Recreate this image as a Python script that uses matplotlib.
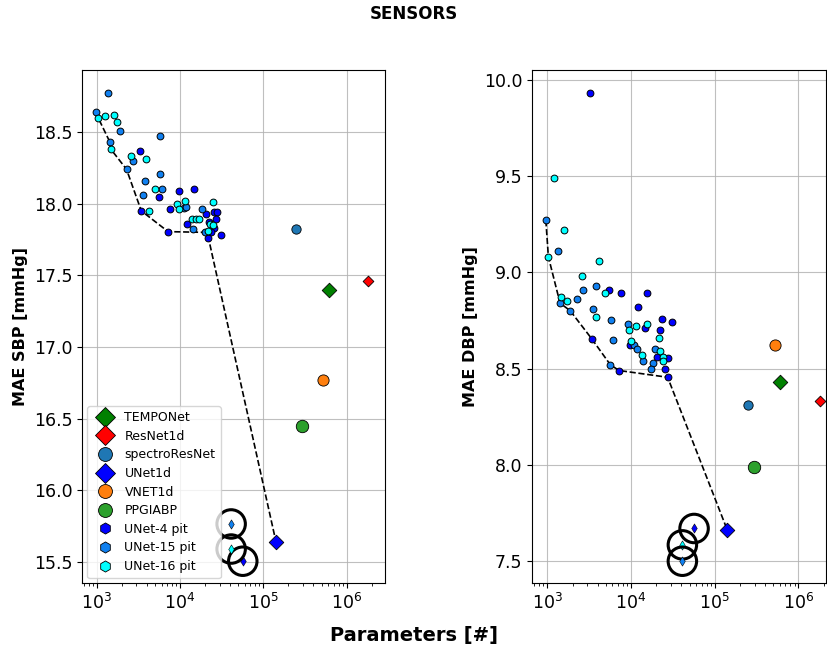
import numpy as np
import matplotlib
matplotlib.use("Agg")
import matplotlib.pyplot as plt
from matplotlib.lines import Line2D

# ---- SBP panel: pit variants (params, MAE) ----
sbp_u4_params = [3270, 9730, 14800, 5520, 3430, 7540, 20790, 25880, 28100, 27350,
                 12010, 22130, 25600, 7200, 23820, 31300, 21970]
sbp_u4_mae = [18.37, 18.09, 18.10, 18.05, 17.95, 17.96, 17.93, 17.94, 17.94, 17.89,
              17.86, 17.87, 17.83, 17.805, 17.80, 17.78, 17.76]
sbp_u15_params = [1360, 970, 1890, 5730, 1440, 2750, 2280, 5730, 3830, 6150,
                  3590, 11160, 11790, 18270, 14150, 20230]
sbp_u15_mae = [18.77, 18.64, 18.51, 18.47, 18.43, 18.30, 18.24, 18.21, 18.16, 18.10,
               18.06, 17.97, 17.98, 17.96, 17.82, 17.80]
sbp_u16_params = [1040, 1250, 1600, 1760, 1480, 2610, 3860, 5000, 11560, 24700,
                  9290, 4200, 9810, 13770, 15490, 16980, 22950, 25200, 21540]
sbp_u16_mae = [18.60, 18.61, 18.62, 18.57, 18.38, 18.33, 18.31, 18.10, 18.02, 18.01,
               18.00, 17.95, 17.96, 17.89, 17.89, 17.89, 17.86, 17.85, 17.81]

# ---- DBP panel: pit variants ----
dbp_u4_params = [3240, 5460, 7530, 15420, 12020, 23650, 31140, 14830, 22030, 3390,
                 9650, 20610, 27900, 25700, 7200, 27400]
dbp_u4_mae = [9.93, 8.91, 8.89, 8.89, 8.82, 8.76, 8.74, 8.71, 8.70, 8.655,
              8.62, 8.56, 8.555, 8.50, 8.49, 8.455]
dbp_u15_params = [960, 1340, 2690, 3790, 1420, 2260, 1880, 3550, 5720, 9140,
                  6150, 10760, 11690, 19500, 14030, 18150, 17180, 5660]
dbp_u15_mae = [9.27, 9.11, 8.91, 8.93, 8.84, 8.86, 8.80, 8.81, 8.75, 8.73,
               8.65, 8.62, 8.60, 8.60, 8.54, 8.53, 8.50, 8.52]
dbp_u16_params = [1210, 1580, 1030, 4150, 2600, 4890, 1470, 1730, 3820, 11480,
                  15530, 9390, 21420, 9910, 22210, 13520, 23920, 24320]
dbp_u16_mae = [9.49, 9.22, 9.08, 9.06, 8.98, 8.89, 8.87, 8.85, 8.77, 8.72,
               8.73, 8.70, 8.66, 8.645, 8.59, 8.57, 8.56, 8.54]

# ---- reference models ----
models = ["TEMPONet", "ResNet1d", "spectroResNet", "UNet1d", "VNET1d", "PPGIABP"]
model_params = [6.1e5, 1.83e6, 2.48e5, 1.42e5, 5.2e5, 2.93e5]
model_sbp = [17.40, 17.46, 17.82, 15.64, 16.77, 16.45]
model_dbp = [8.43, 8.33, 8.31, 7.66, 8.62, 7.99]

# ---- selected (circled) pit models: UNet-4, UNet-16, UNet-15 ----
sel_params = [56700, 41100, 41100]
sel_sbp = [15.505, 15.59, 15.765]
sel_dbp = [7.67, 7.585, 7.50]

C4, C15, C16 = "#0000ff", "#1080f0", "#00ffff"
model_style = {
    "TEMPONet": dict(marker="D", color="green", s=55),
    "ResNet1d": dict(marker="D", color="red", s=30),
    "spectroResNet": dict(marker="o", color="tab:blue", s=45),
    "UNet1d": dict(marker="D", color="blue", s=55),
    "VNET1d": dict(marker="o", color="tab:orange", s=65),
    "PPGIABP": dict(marker="o", color="tab:green", s=80),
}
sel_colors = [C4, C16, C15]


def pareto(xs, ys):
    order = np.argsort(xs)
    fx, fy = [], []
    best = np.inf
    for i in order:
        if ys[i] < best:
            best = ys[i]
            fx.append(xs[i]); fy.append(ys[i])
    return fx, fy


def panel(ax, groups, mvals, svals, ylabel):
    allx, ally = [], []
    for (px, py), c in zip(groups, [C4, C15, C16]):
        ax.scatter(px, py, s=24, color=c, edgecolor="black", linewidth=0.7, zorder=3)
        allx += px; ally += py
    i_u = models.index("UNet1d")
    fx, fy = pareto(np.array(allx + [model_params[i_u]]), np.array(ally + [mvals[i_u]]))
    ax.plot(fx, fy, color="black", ls="--", lw=1.2, zorder=2)
    for name, px, py in zip(models, model_params, mvals):
        st = model_style[name]
        ax.scatter(px, py, marker=st["marker"], s=st["s"], color=st["color"],
                   edgecolor="black", linewidth=0.6, zorder=4)
    for px, py, c in zip(sel_params, svals, sel_colors):
        ax.scatter(px, py, marker="d", s=22, color=c, edgecolor="black",
                   linewidth=0.4, zorder=5)
        ax.scatter(px, py, marker="o", s=420, facecolor="none", edgecolor="black",
                   linewidth=2.2, zorder=5)
    ax.set_xscale("log")
    ax.grid(True, color="#b0b0b0", lw=0.8, alpha=0.8)
    ax.set_axisbelow(True)
    ax.set_ylabel(ylabel, fontsize=11.5, fontweight="bold")
    ax.tick_params(labelsize=12.5)


fig = plt.figure(figsize=(8.27, 6.51), dpi=100)
ax1 = fig.add_axes([82 / 827, 1 - 583 / 651, 303 / 827, 513 / 651])
ax2 = fig.add_axes([532 / 827, 1 - 583 / 651, 294 / 827, 513 / 651])

panel(ax1, [(sbp_u4_params, sbp_u4_mae), (sbp_u15_params, sbp_u15_mae),
            (sbp_u16_params, sbp_u16_mae)], model_sbp, sel_sbp, "MAE SBP [mmHg]")
panel(ax2, [(dbp_u4_params, dbp_u4_mae), (dbp_u15_params, dbp_u15_mae),
            (dbp_u16_params, dbp_u16_mae)], model_dbp, sel_dbp, "MAE DBP [mmHg]")

ax1.set_xlim(10 ** 2.8235, 10 ** 6.461)
ax1.set_ylim(15.353, 18.933)
ax1.set_yticks([15.5, 16.0, 16.5, 17.0, 17.5, 18.0, 18.5])
ax2.set_xlim(10 ** 2.817, 10 ** 6.330)
ax2.set_ylim(7.387, 10.05)
ax2.set_yticks([7.5, 8.0, 8.5, 9.0, 9.5, 10.0])

handles = []
for name in models:
    st = model_style[name]
    handles.append(Line2D([], [], ls="none", marker=st["marker"], markersize=10,
                          markerfacecolor=st["color"], markeredgecolor="black",
                          markeredgewidth=0.6, label=name))
for lab, c in zip(["UNet-4 pit", "UNet-15 pit", "UNet-16 pit"], [C4, C15, C16]):
    handles.append(Line2D([], [], ls="none", marker="h", markersize=8,
                          markerfacecolor=c, markeredgecolor="black",
                          markeredgewidth=0.6, label=lab))
ax1.legend(handles=handles, loc="lower left", fontsize=9, handletextpad=0.6,
           labelspacing=0.45, borderaxespad=0.4)

fig.text(0.5, 1 - 14 / 651, "SENSORS", ha="center", va="center",
         fontsize=12, fontweight="bold")
fig.text(0.5, 1 - 636 / 651, "Parameters [#]", ha="center", va="center",
         fontsize=14, fontweight="bold")

fig.savefig("out.png", dpi=100)
